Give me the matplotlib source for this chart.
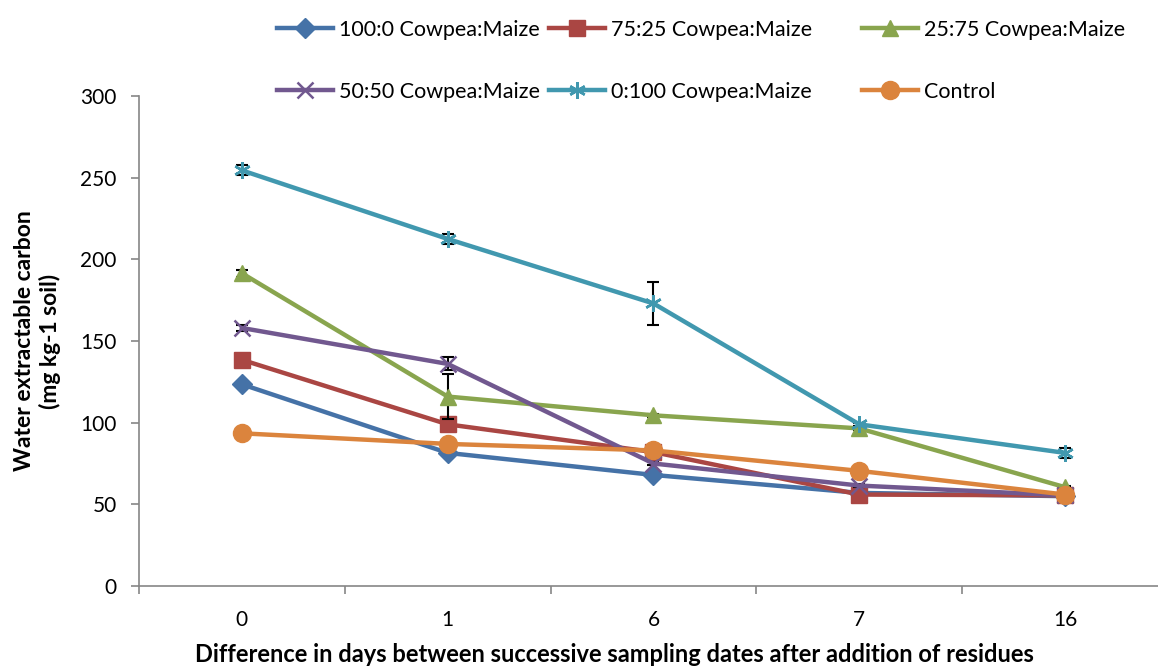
import numpy as np
import matplotlib.pyplot as plt

plt.rcParams['font.family'] = ['Lato', 'DejaVu Sans']

# Sampling intervals (categorical x axis)
days = ['0', '1', '6', '7', '16']

# Water extractable carbon (mg kg-1 soil)
wec_100_0 = [123.5, 81.5, 68, 57, 55]
wec_75_25 = [138.5, 99, 82, 56, 55.5]
wec_25_75 = [191.5, 116, 104.5, 96.5, 60.5]
wec_50_50 = [158, 136, 75, 61.5, 55.5]
wec_0_100 = [254.5, 212.5, 173, 99, 81.5]
wec_control = [93.5, 87, 83, 70.5, 56]

# standard errors
err_100_0 = [1, 1, 1, 1, 1]
err_75_25 = [1, 1, 1, 1, 1]
err_25_75 = [2, 14, 1, 1, 1]
err_50_50 = [2, 4, 1, 1, 1]
err_0_100 = [3, 3, 13, 1, 3]
err_control = [1, 1, 1, 1, 1]

series = [
    ('100:0 Cowpea:Maize', wec_100_0, err_100_0, '#4572A7', 'D', 10),
    ('75:25 Cowpea:Maize', wec_75_25, err_75_25, '#AA4643', 's', 11),
    ('25:75 Cowpea:Maize', wec_25_75, err_25_75, '#89A54E', '^', 12),
    ('50:50 Cowpea:Maize', wec_50_50, err_50_50, '#71588F', 'x', 11),
    ('0:100 Cowpea:Maize', wec_0_100, err_0_100, '#4198AF', (6, 2, 0), 12),
    ('Control', wec_control, err_control, '#DB843D', 'o', 13),
]

fig = plt.figure(figsize=(11.58, 6.66), dpi=100)
ax = fig.add_axes([0.12, 0.1201, 0.8886, 0.7357])

x = np.arange(len(days))
handles = {}
for i, (name, vals, err, col, mk, ms) in enumerate(series):
    ax.errorbar(x, vals, yerr=err, fmt='none', ecolor='black', elinewidth=1.5,
                capsize=4, capthick=1.5, zorder=2 + 2 * i)
    mew = 1.8 if mk in ('x', (6, 2, 0)) else 1
    h, = ax.plot(x, vals, color=col, lw=3.2, marker=mk, ms=ms, mec=col, mfc=col,
                 mew=mew, zorder=3 + 2 * i, label=name)
    handles[name] = h

ax.set_xlim(-0.5, len(days) - 0.5)
ax.set_ylim(0, 300)
ax.set_yticks(np.arange(0, 301, 50))
ax.set_xticks(x)
ax.set_xticklabels(days)
ax.set_xticks(np.arange(-0.5, len(days), 1), minor=True)
ax.tick_params(axis='x', which='major', length=0, pad=17, labelsize=15)
ax.tick_params(axis='x', which='minor', length=6, width=1.2, color='#868686')
ax.tick_params(axis='y', length=6, width=1.2, color='#868686', labelsize=15, pad=10)

for s in ['top', 'right']:
    ax.spines[s].set_visible(False)
for s in ['left', 'bottom']:
    ax.spines[s].set_color('#868686')
    ax.spines[s].set_linewidth(1.2)

ax.set_xlabel('Difference in days between successive sampling dates after addition of residues',
              fontsize=17, fontweight='bold')
ax.xaxis.set_label_coords(0.462, -0.117, transform=ax.transAxes)
ax.set_ylabel('Water extractable carbon\n(mg kg-1 soil)', fontsize=16.5,
              fontweight='bold', labelpad=14)

# legend: three columns of two entries, placed like the original
legend_cols = [['100:0 Cowpea:Maize', '50:50 Cowpea:Maize'],
               ['75:25 Cowpea:Maize', '0:100 Cowpea:Maize'],
               ['25:75 Cowpea:Maize', 'Control']]
col_x = [0.239, 0.474, 0.744]
for cx, names in zip(col_x, legend_cols):
    leg = fig.legend([handles[k] for k in names], names, loc='center left',
                     bbox_to_anchor=(cx, 0.909), frameon=False, fontsize=15.5,
                     handlelength=2.6, handletextpad=0.3, labelspacing=1.95,
                     borderpad=0, borderaxespad=0)

fig.savefig('out.png', dpi=100)
